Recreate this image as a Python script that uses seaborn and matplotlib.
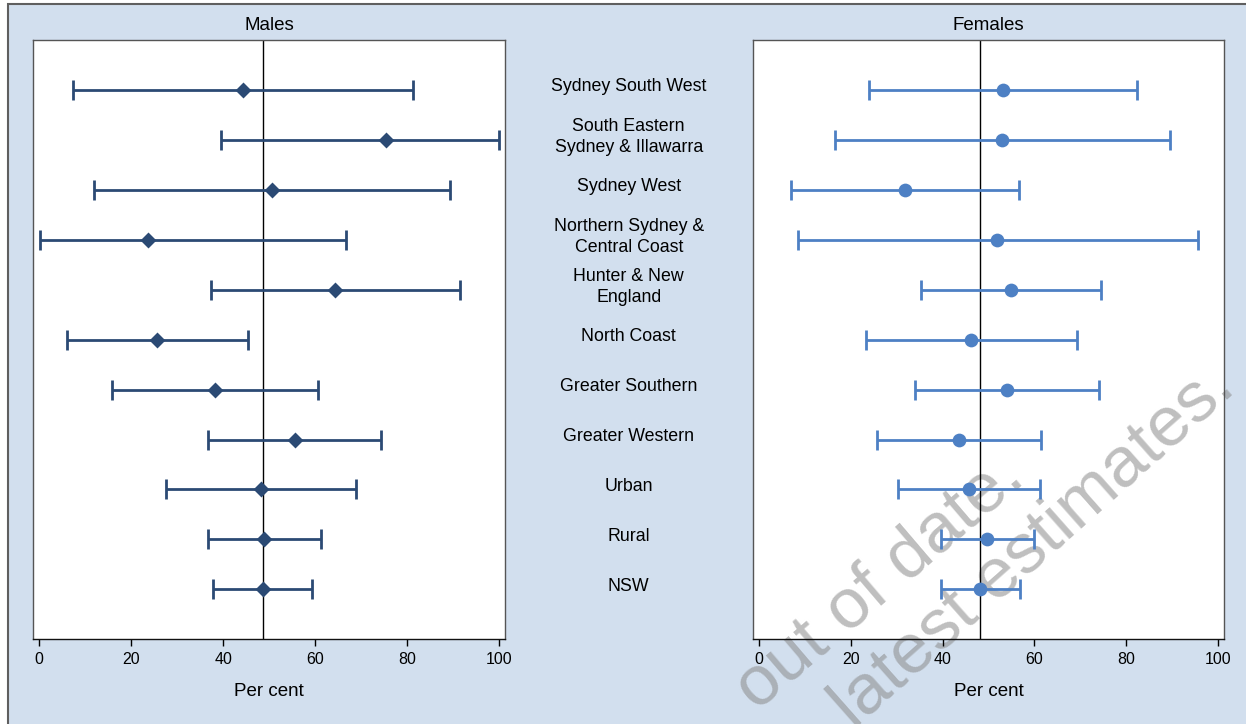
import matplotlib
matplotlib.use('Agg')
import matplotlib.pyplot as plt
import matplotlib.transforms as mtransforms
from matplotlib.patches import Rectangle
import seaborn as sns
import pandas as pd
import numpy as np

regions = [
    "Sydney South West",
    "South Eastern\nSydney & Illawarra",
    "Sydney West",
    "Northern Sydney &\nCentral Coast",
    "Hunter & New\nEngland",
    "North Coast",
    "Greater Southern",
    "Greater Western",
    "Urban",
    "Rural",
    "NSW",
]

male_est = [44.3, 75.5, 50.6, 23.7, 64.4, 25.7, 38.2, 55.6, 48.2, 48.9, 48.6]
male_lo = [7.3, 39.6, 11.8, 0.1, 37.3, 6.0, 15.9, 36.8, 27.6, 36.7, 37.8]
male_hi = [81.2, 100.0, 89.3, 66.8, 91.6, 45.5, 60.6, 74.4, 68.8, 61.2, 59.4]

female_est = [53.2, 52.9, 31.8, 51.9, 55.0, 46.2, 54.0, 43.6, 45.7, 49.7, 48.2]
female_lo = [24.1, 16.6, 7.0, 8.5, 35.3, 23.3, 34.0, 25.8, 30.3, 39.6, 39.6]
female_hi = [82.3, 89.4, 56.7, 95.5, 74.5, 69.2, 74.0, 61.5, 61.2, 59.9, 56.9]

MALE_COLOR = '#2b4a74'
FEMALE_COLOR = '#4d80c4'
BG_COLOR = '#d2dfee'

sns.set_style('white')
plt.rcParams['font.family'] = ['Liberation Sans', 'DejaVu Sans']
plt.rcParams['text.color'] = 'black'
plt.rcParams['axes.labelcolor'] = 'black'
plt.rcParams['xtick.color'] = 'black'

df = pd.DataFrame({
    'region': regions,
    'pos': np.arange(1, len(regions) + 1),
    'male_est': male_est, 'male_lo': male_lo, 'male_hi': male_hi,
    'female_est': female_est, 'female_lo': female_lo, 'female_hi': female_hi,
})

W, H = 1246, 724
fig = plt.figure(figsize=(W / 100, H / 100), dpi=100, facecolor='white')

# light blue graph region with a grey border (cropped at right and bottom)
fig.patches.append(Rectangle((8 / W, -0.02), 1.05, 1 - 4 / H + 0.02,
                             transform=fig.transFigure, facecolor=BG_COLOR,
                             edgecolor='#5f5f5f', linewidth=1.5, zorder=-1))

ax_m = fig.add_axes([33.3 / W, 1 - 639.3 / H, 471.7 / W, 599.3 / H])
ax_f = fig.add_axes([752.7 / W, 1 - 639.3 / H, 471.6 / W, 599.3 / H])

# white plot areas drawn at figure level so the watermark sits above them
# but beneath the data
for ax in (ax_m, ax_f):
    bb = ax.get_position()
    fig.patches.append(Rectangle((bb.x0, bb.y0), bb.width, bb.height,
                                 transform=fig.transFigure, facecolor='white',
                                 edgecolor='none', zorder=-0.5))


def draw_panel(ax, prefix, color, marker, size, title):
    est = df[f'{prefix}_est']
    xerr = [est - df[f'{prefix}_lo'], df[f'{prefix}_hi'] - est]
    ax.axvline(est.iloc[-1], color='black', linewidth=1.0, zorder=1)
    ax.errorbar(est, df['pos'], xerr=xerr, fmt='none', ecolor=color,
                elinewidth=2.0, capsize=7, capthick=2.0, zorder=2)
    sns.scatterplot(data=df, x=f'{prefix}_est', y='pos', ax=ax, color=color,
                    marker=marker, s=size, linewidth=0, zorder=3, legend=False)
    ax.set_xlim(-1.3, 101.3)
    ax.set_ylim(12, 0)
    ax.set_facecolor('none')
    ax.set_yticks([])
    ax.set_ylabel('')
    ax.set_xticks([0, 20, 40, 60, 80, 100])
    ax.tick_params(axis='x', direction='out', length=5, width=1,
                   labelsize=11.5, pad=4, bottom=True, colors='black')
    ax.set_xlabel('Per cent', fontsize=13.5, labelpad=12)
    ax.set_title(title, fontsize=13.5, pad=7)
    for side, sp in ax.spines.items():
        sp.set_visible(True)
        sp.set_color('#111111' if side == 'bottom' else '#555555')
        sp.set_linewidth(1.0)


draw_panel(ax_m, 'male', MALE_COLOR, 'D', 66, 'Males')
draw_panel(ax_f, 'female', FEMALE_COLOR, 'o', 98, 'Females')

# region labels between the two panels
trans = mtransforms.blended_transform_factory(fig.transFigure, ax_m.transData)
for label, pos in zip(df['region'], df['pos']):
    fig.text(628.7 / W, pos - 0.06, label, transform=trans, ha='center',
             va='center', fontsize=12.8, linespacing=1.3)

# watermark (behind the data)
for txt, (px, py), rot in [("out of date.", (1027, 481), 40.5),
                           ("latest estimates.", (1237, 390), 41.5)]:
    fig.text(px / W, 1 - py / H, txt, fontsize=51, color='#8a8a8a', alpha=0.55,
             rotation=rot, rotation_mode='anchor', ha='right', va='baseline',
             zorder=-0.2)

fig.savefig('out.png', dpi=100, facecolor='white')
